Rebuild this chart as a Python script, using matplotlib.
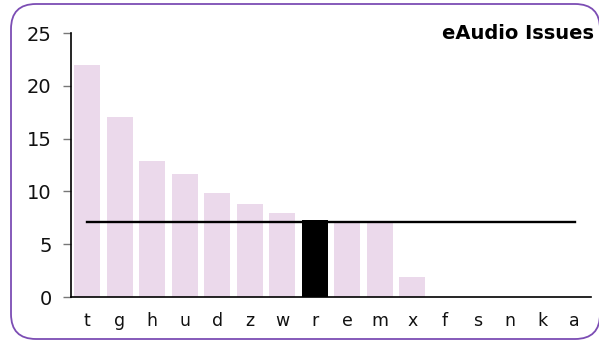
import matplotlib
matplotlib.use("Agg")
import matplotlib.pyplot as plt
from matplotlib.patches import FancyBboxPatch
from matplotlib.transforms import IdentityTransform

categories = ['t', 'g', 'h', 'u', 'd', 'z', 'w', 'r', 'e', 'm', 'x', 'f', 's', 'n', 'k', 'a']
counts = [22.0, 17.1, 12.9, 11.7, 9.9, 8.8, 8.0, 7.3, 7.0, 7.0, 1.9, 0, 0, 0, 0, 0]
highlight = 'r'
average = 7.1
y_ticks = [0, 5, 10, 15, 20, 25]

bar_color = '#ebd9eb'
border_color = '#7c4db4'

plt.rcParams['font.family'] = ['DejaVu Sans']

fig = plt.figure(figsize=(5.99, 3.45), dpi=100)
ax = fig.add_axes([0.1185, 0.139, 0.868, 0.765])

x = list(range(len(categories)))
colors = ['black' if c == highlight else bar_color for c in categories]
ax.bar(x, counts, width=0.8, color=colors, zorder=2)
ax.plot([x[0], x[-1]], [average, average], color='black', linewidth=1.7, zorder=3)

ax.set_xlim(-0.5, len(categories) - 0.5)
ax.set_ylim(0, 25)
ax.set_yticks(y_ticks)
ax.set_xticks(x)
ax.set_xticklabels(categories)

for side in ('top', 'right'):
    ax.spines[side].set_visible(False)
ax.spines['left'].set_linewidth(1.2)
ax.spines['bottom'].set_linewidth(1.2)

ax.tick_params(axis='y', length=6, width=1, color='#777777', pad=8,
               labelsize=14, labelcolor='#111111')
ax.tick_params(axis='x', length=0, pad=11, labelsize=12.5, labelcolor='#111111')

fig.text(0.992, 0.904, 'eAudio Issues', ha='right', va='center',
         fontsize=14, fontweight='bold', color='black')

# rounded frame around the whole chart, in pixel units
frame = FancyBboxPatch((11, 6), 589, 335,
                       boxstyle='round,pad=0,rounding_size=25',
                       transform=IdentityTransform(), facecolor='none',
                       edgecolor=border_color, linewidth=1.3)
fig.add_artist(frame)

fig.savefig('out.png', dpi=100)
